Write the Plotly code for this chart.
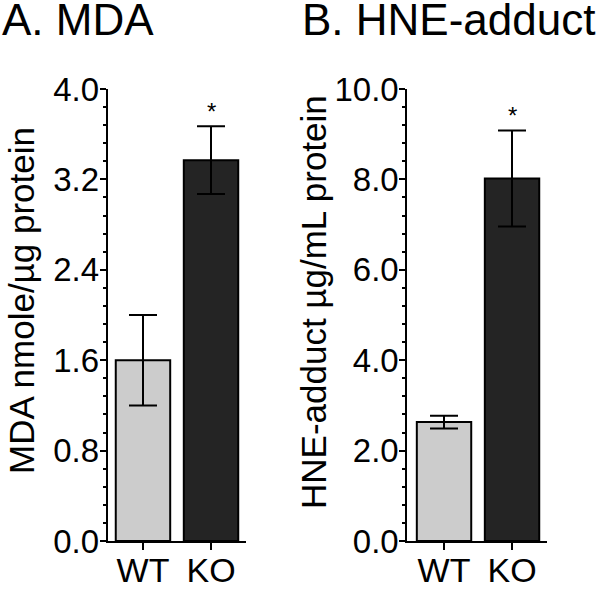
import plotly.graph_objects as go
from plotly.subplots import make_subplots

categories = ["WT", "KO"]
mda_mean = [1.6, 3.37]
mda_err = [0.4, 0.3]
hne_mean = [2.63, 8.02]
hne_err = [0.14, 1.06]
bar_colors = ["#cccccc", "#242424"]
mda_ticks = [0.0, 0.8, 1.6, 2.4, 3.2, 4.0]
hne_ticks = [0.0, 2.0, 4.0, 6.0, 8.0, 10.0]

FONT = "Liberation Sans, Arial, sans-serif"
W, H = 600, 589

fig = make_subplots(rows=1, cols=2)

for col, (mean, err) in enumerate([(mda_mean, mda_err), (hne_mean, hne_err)], start=1):
    fig.add_trace(go.Bar(
        x=[0, 1], y=mean, width=0.8,
        marker=dict(color=bar_colors, line=dict(color="black", width=2)),
        error_y=dict(type="data", array=err, visible=True, color="black",
                     thickness=2, width=14),
        showlegend=False,
    ), row=1, col=col)

ydom = [1 - 541 / H, 1 - 89 / H]
xdom1 = [107.6 / W, 246.4 / W]
xdom2 = [407.3 / W, 547.4 / W]

common_x = dict(showline=True, linecolor="black", linewidth=2, ticks="outside",
                ticklen=7, tickwidth=2, tickcolor="black", showgrid=False,
                zeroline=False, tickmode="array", tickvals=[0, 1],
                ticktext=categories, tickfont=dict(family=FONT, size=34, color="black"),
                ticklabelstandoff=-9,
                fixedrange=True, automargin=False)
common_y = dict(showline=True, linecolor="black", linewidth=2, ticks="outside",
                ticklen=6, tickwidth=2, tickcolor="black", showgrid=False,
                zeroline=False, tickformat=".1f", automargin=False,
                ticklabelstandoff=-6,
                tickfont=dict(family=FONT, size=33, color="black"))

fig.update_layout(
    template="none",
    width=W, height=H,
    margin=dict(l=0, r=0, t=0, b=0, pad=0),
    paper_bgcolor="white", plot_bgcolor="white",
    bargap=0.2,
    xaxis=dict(domain=xdom1, range=[-0.52, 1.52], **common_x),
    xaxis2=dict(domain=xdom2, range=[-0.54, 1.52], **common_x),
    yaxis=dict(domain=ydom, range=[0, 4.0], tickvals=mda_ticks,
               minor=dict(dtick=0.16, ticks="outside", ticklen=3, tickwidth=2,
                          tickcolor="black", showgrid=False), **common_y),
    yaxis2=dict(domain=ydom, range=[0, 10.0], tickvals=hne_ticks,
                minor=dict(dtick=0.4, ticks="outside", ticklen=3, tickwidth=2,
                           tickcolor="black", showgrid=False), **common_y),
)

annotations = [
    dict(text="A. MDA", x=0, y=1 - 20 / H, xref="paper", yref="paper",
         xanchor="left", yanchor="middle", showarrow=False,
         font=dict(family=FONT, size=44, color="black")),
    dict(text="B. HNE-adduct", x=0.5, y=1 - 20 / H, xref="paper", yref="paper",
         xanchor="left", yanchor="middle", showarrow=False,
         font=dict(family=FONT, size=44, color="black")),
    dict(text="MDA nmole/µg protein", x=21 / W, y=1 - 301 / H, xref="paper", yref="paper",
         xanchor="center", yanchor="middle", textangle=-90, showarrow=False,
         font=dict(family=FONT, size=35, color="black")),
    dict(text="HNE-adduct µg/mL protein", x=313 / W, y=1 - 302 / H, xref="paper", yref="paper",
         xanchor="center", yanchor="middle", textangle=-90, showarrow=False,
         font=dict(family=FONT, size=35, color="black")),
    dict(text="*", x=1, y=mda_mean[1] + mda_err[1], xref="x", yref="y",
         yanchor="middle", yshift=15, showarrow=False,
         font=dict(family=FONT, size=24, color="black")),
    dict(text="*", x=1, y=hne_mean[1] + hne_err[1], xref="x2", yref="y2",
         yanchor="middle", yshift=15, showarrow=False,
         font=dict(family=FONT, size=24, color="black")),
]
fig.update_layout(annotations=annotations)

fig.write_html("out.html", config={"displayModeBar": False},
               post_script="document.body.style.margin='0';document.body.style.overflow='hidden';")
